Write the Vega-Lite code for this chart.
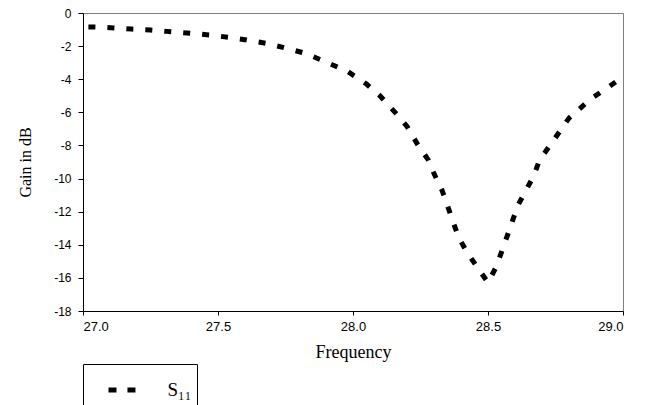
{
  "$schema": "https://vega.github.io/schema/vega-lite/v6.json",
  "width": 540,
  "height": 298,
  "autosize": {"type": "none"},
  "padding": {"left": 83, "top": 13, "right": 33, "bottom": 94},
  "background": "white",
  "config": {
    "view": {"stroke": "#808080", "strokeWidth": 1},
    "axis": {"grid": false, "domainColor": "#000000", "tickColor": "#000000", "labelColor": "#000000", "titleColor": "#000000", "labelFont": "Liberation Sans", "titleFont": "Liberation Serif", "titleFontWeight": "normal", "labelFontSize": 12}
  },
  "data": {
    "values": [
      {"frequency": 27.02, "gain": -0.85, "series": "S₁₁"},
      {"frequency": 27.04, "gain": -0.85, "series": "S₁₁"},
      {"frequency": 27.09, "gain": -0.87, "series": "S₁₁"},
      {"frequency": 27.18, "gain": -0.97, "series": "S₁₁"},
      {"frequency": 27.25, "gain": -1.03, "series": "S₁₁"},
      {"frequency": 27.31, "gain": -1.11, "series": "S₁₁"},
      {"frequency": 27.40, "gain": -1.23, "series": "S₁₁"},
      {"frequency": 27.47, "gain": -1.33, "series": "S₁₁"},
      {"frequency": 27.54, "gain": -1.47, "series": "S₁₁"},
      {"frequency": 27.60, "gain": -1.61, "series": "S₁₁"},
      {"frequency": 27.69, "gain": -1.87, "series": "S₁₁"},
      {"frequency": 27.76, "gain": -2.16, "series": "S₁₁"},
      {"frequency": 27.82, "gain": -2.42, "series": "S₁₁"},
      {"frequency": 27.88, "gain": -2.82, "series": "S₁₁"},
      {"frequency": 27.98, "gain": -3.53, "series": "S₁₁"},
      {"frequency": 28.05, "gain": -4.29, "series": "S₁₁"},
      {"frequency": 28.10, "gain": -5.0, "series": "S₁₁"},
      {"frequency": 28.16, "gain": -6.08, "series": "S₁₁"},
      {"frequency": 28.20, "gain": -6.85, "series": "S₁₁"},
      {"frequency": 28.24, "gain": -7.96, "series": "S₁₁"},
      {"frequency": 28.28, "gain": -8.9, "series": "S₁₁"},
      {"frequency": 28.30, "gain": -9.7, "series": "S₁₁"},
      {"frequency": 28.33, "gain": -10.72, "series": "S₁₁"},
      {"frequency": 28.35, "gain": -11.64, "series": "S₁₁"},
      {"frequency": 28.37, "gain": -12.59, "series": "S₁₁"},
      {"frequency": 28.39, "gain": -13.5, "series": "S₁₁"},
      {"frequency": 28.42, "gain": -14.4, "series": "S₁₁"},
      {"frequency": 28.46, "gain": -15.35, "series": "S₁₁"},
      {"frequency": 28.50, "gain": -16.28, "series": "S₁₁"},
      {"frequency": 28.53, "gain": -15.35, "series": "S₁₁"},
      {"frequency": 28.55, "gain": -14.44, "series": "S₁₁"},
      {"frequency": 28.57, "gain": -13.52, "series": "S₁₁"},
      {"frequency": 28.59, "gain": -12.59, "series": "S₁₁"},
      {"frequency": 28.61, "gain": -11.64, "series": "S₁₁"},
      {"frequency": 28.64, "gain": -10.74, "series": "S₁₁"},
      {"frequency": 28.67, "gain": -9.81, "series": "S₁₁"},
      {"frequency": 28.69, "gain": -8.92, "series": "S₁₁"},
      {"frequency": 28.73, "gain": -7.98, "series": "S₁₁"},
      {"frequency": 28.77, "gain": -7.05, "series": "S₁₁"},
      {"frequency": 28.80, "gain": -6.35, "series": "S₁₁"},
      {"frequency": 28.88, "gain": -5.2, "series": "S₁₁"},
      {"frequency": 28.95, "gain": -4.43, "series": "S₁₁"},
      {"frequency": 29.00, "gain": -3.85, "series": "S₁₁"}
    ]
  },
  "mark": {"type": "line", "strokeWidth": 5, "strokeDash": [7, 12], "strokeCap": "butt", "clip": false},
  "encoding": {
    "x": {
      "field": "frequency", "type": "quantitative",
      "scale": {"domain": [27, 29], "nice": false, "zero": false},
      "axis": {"title": "Frequency", "values": [27, 27.5, 28, 28.5, 29], "format": ".1f", "tickSize": 4, "labelPadding": 5, "labelFontSize": 13, "titleFontSize": 18, "titlePadding": 10}
    },
    "y": {
      "field": "gain", "type": "quantitative",
      "scale": {"domain": [-18, 0], "nice": false},
      "axis": {"title": "Gain in dB", "values": [-18, -16, -14, -12, -10, -8, -6, -4, -2, 0], "labelExpr": "replace(datum.label, '−', '-')", "tickSize": 5, "labelPadding": 7, "titleFontSize": 16, "titlePadding": 20}
    },
    "color": {
      "field": "series", "type": "nominal",
      "scale": {"range": ["#000000"]},
      "legend": {
        "title": null, "orient": "none", "legendX": 0, "legendY": 351,
        "symbolType": "stroke", "symbolSize": 1300, "symbolStrokeWidth": 5, "symbolDash": [8, 11],
        "symbolStrokeColor": "#000000", "symbolOffset": 17.5,
        "labelFont": "Liberation Serif", "labelFontSize": 19, "labelColor": "#000000", "labelOffset": 20,
        "labelExpr": "datum.label + '\u00a0\u00a0\u00a0\u00a0\u00a0\u00a0\u00a0'",
        "strokeColor": "#000000", "fillColor": "white", "padding": 5
      }
    }
  }
}
